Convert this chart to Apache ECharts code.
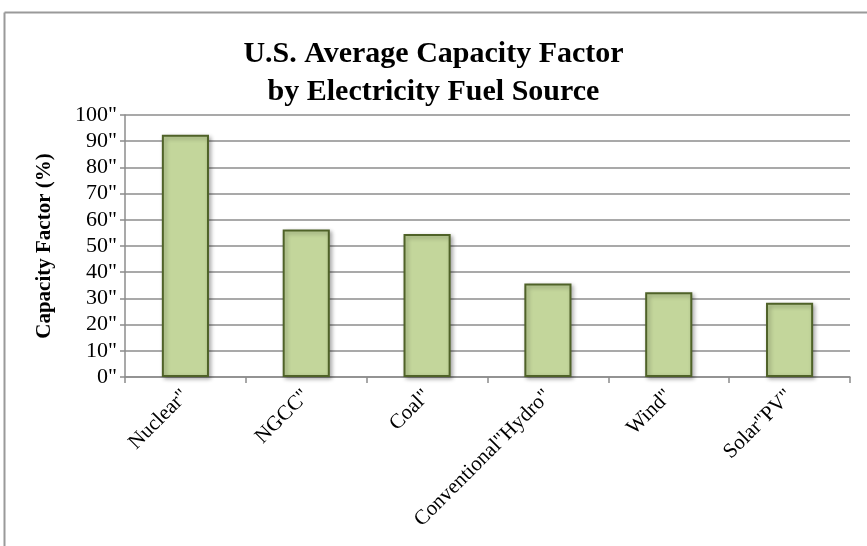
<!DOCTYPE html>
<html>
<head>
<meta charset="utf-8">
<script src="https://cdn.jsdelivr.net/npm/echarts@6/dist/echarts.min.js"></script>
<style>
  html, body { margin: 0; padding: 0; background: #fff; }
  #chart { width: 867px; height: 546px; }
</style>
</head>
<body>
<div id="chart"></div>
<script>
// Fuel sources and their average capacity factors (%)
const categories = ['Nuclear"', 'NGCC"', 'Coal"', 'Conventional"Hydro"', 'Wind"', 'Solar"PV"'];
const capacityFactor = [92.5, 56.3, 54.6, 35.7, 32.3, 28.3];
const yTicks = [0, 10, 20, 30, 40, 50, 60, 70, 80, 90, 100];

const serif = '"Liberation Serif", "DejaVu Serif", serif';

const chart = echarts.init(document.getElementById('chart'));
chart.setOption({
  backgroundColor: '#ffffff',
  animation: false,
  title: {
    text: 'U.S. Average Capacity Factor\nby Electricity Fuel Source',
    left: 'center',
    top: 30,
    padding: [5, 0, 5, 18],
    textStyle: {
      fontFamily: serif,
      fontWeight: 'bold',
      fontSize: 30,
      lineHeight: 38,
      color: '#000'
    }
  },
  grid: { left: 125, right: 17, top: 115, bottom: 169 },
  xAxis: {
    type: 'category',
    data: categories,
    axisLine: { lineStyle: { color: '#8c8c8c', width: 1.5 } },
    axisTick: { show: true, length: 6, lineStyle: { color: '#8c8c8c', width: 1.5 } },
    axisLabel: {
      rotate: 45,
      interval: 0,
      margin: 16,
      fontFamily: serif,
      fontSize: 21,
      color: '#000'
    }
  },
  yAxis: {
    type: 'value',
    min: yTicks[0],
    max: yTicks[yTicks.length - 1],
    interval: 10,
    name: 'Capacity Factor (%)',
    nameLocation: 'middle',
    nameGap: 70,
    nameTextStyle: {
      fontFamily: serif,
      fontWeight: 'bold',
      fontSize: 21,
      color: '#000'
    },
    axisLine: { show: true, lineStyle: { color: '#8c8c8c', width: 1.5 } },
    axisTick: { show: true, length: 5, lineStyle: { color: '#8c8c8c', width: 1.5 } },
    axisLabel: {
      margin: 8,
      fontFamily: serif,
      fontSize: 22,
      color: '#000',
      formatter: v => v + '"'
    },
    splitLine: { lineStyle: { color: '#8c8c8c', width: 1.5 } }
  },
  series: [{
    type: 'bar',
    data: capacityFactor,
    barWidth: '39%',
    itemStyle: {
      color: '#c3d69b',
      borderColor: '#4f6228',
      borderWidth: 2,
      shadowColor: 'rgba(0,0,0,0.3)',
      shadowBlur: 4,
      shadowOffsetX: 2,
      shadowOffsetY: 2
    }
  }],
  graphic: [
    { type: 'line', shape: { x1: 4.5, y1: 12.5, x2: 867, y2: 12.5 }, style: { stroke: '#9a9a9a', lineWidth: 2 } },
    { type: 'line', shape: { x1: 4.5, y1: 12.5, x2: 4.5, y2: 546 }, style: { stroke: '#9a9a9a', lineWidth: 2 } }
  ]
});
</script>
</body>
</html>
